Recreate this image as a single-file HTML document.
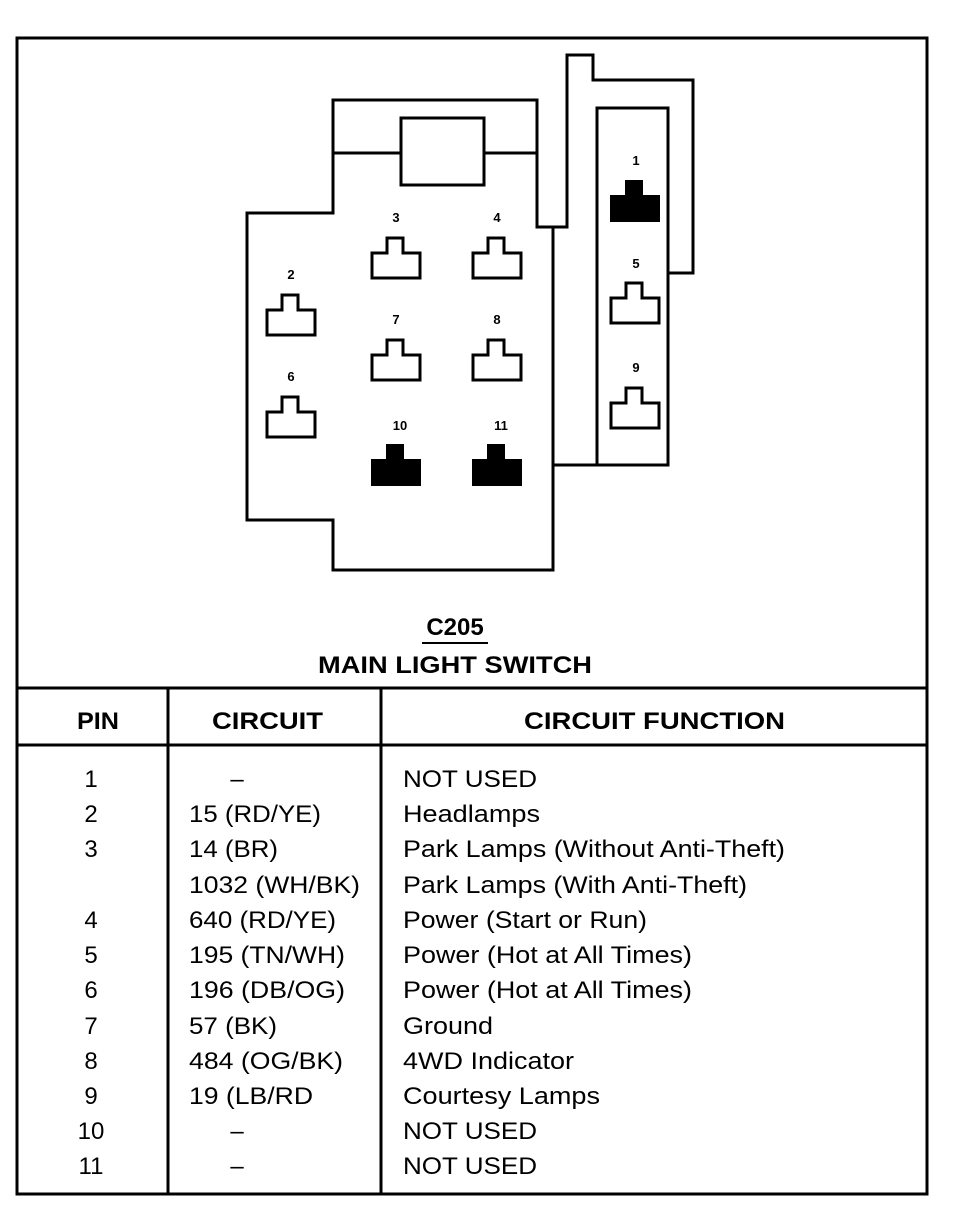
<!DOCTYPE html>
<html><head><meta charset="utf-8"><style>
html,body{margin:0;padding:0;background:#fff;}
svg{display:block;}
text{font-family:"Liberation Sans",Arial,sans-serif;fill:#000;}
.h{font-weight:bold;font-size:24px;}
.t{font-size:24px;}
.n{font-size:13px;font-weight:bold;}
</style></head><body>
<svg width="954" height="1216" viewBox="0 0 954 1216" xmlns="http://www.w3.org/2000/svg">
<g fill="none" stroke="#000" stroke-width="3">
<rect x="17" y="38" width="910" height="1156"/>
<line x1="17" y1="688" x2="927" y2="688"/>
<line x1="17" y1="745" x2="927" y2="745"/>
<line x1="168" y1="688" x2="168" y2="1194"/>
<line x1="381" y1="688" x2="381" y2="1194"/>
<polygon points="247,213 333,213 333,100 537,100 537,227 553,227 553,570 333,570 333,520 247,520"/>
<line x1="333" y1="153" x2="401" y2="153"/>
<line x1="484" y1="153" x2="537" y2="153"/>
<rect x="401" y="118" width="83" height="67"/>
<polyline points="537,227 567,227 567,55 593,55 593,80 693,80 693,273 668,273"/>
<rect x="597" y="108" width="71" height="357"/>
<line x1="553" y1="465" x2="597" y2="465"/>
</g>
<defs>
<path id="pin" d="M0,15 H15 V0 H31 V15 H48 V40 H0 Z"/>
</defs>
<g fill="#fff" stroke="#000" stroke-width="3">
<use href="#pin" x="267" y="295"/>
<use href="#pin" x="267" y="397"/>
<use href="#pin" x="372" y="238"/>
<use href="#pin" x="473" y="238"/>
<use href="#pin" x="372" y="340"/>
<use href="#pin" x="473" y="340"/>
<use href="#pin" x="611" y="283"/>
<use href="#pin" x="611" y="388"/>
</g>
<g fill="#000" stroke="#000" stroke-width="2">
<use href="#pin" x="372" y="445"/>
<use href="#pin" x="473" y="445"/>
<use href="#pin" x="611" y="181"/>
</g>
<g class="n" text-anchor="middle">
<text x="291" y="279">2</text>
<text x="291" y="381">6</text>
<text x="396" y="222">3</text>
<text x="497" y="222">4</text>
<text x="396" y="324">7</text>
<text x="497" y="324">8</text>
<text x="400" y="430">10</text>
<text x="501" y="430">11</text>
<text x="636" y="165">1</text>
<text x="636" y="268">5</text>
<text x="636" y="372">9</text>
</g>
<text class="h" x="455" y="635" text-anchor="middle">C205</text>
<line x1="422" y1="643" x2="488" y2="643" stroke="#000" stroke-width="2"/>
<text class="h" x="318" y="673" textLength="274" lengthAdjust="spacingAndGlyphs">MAIN LIGHT SWITCH</text>
<text class="h" x="77" y="729" textLength="42" lengthAdjust="spacingAndGlyphs">PIN</text>
<text class="h" x="212" y="729" textLength="111" lengthAdjust="spacingAndGlyphs">CIRCUIT</text>
<text class="h" x="524" y="729" textLength="261" lengthAdjust="spacingAndGlyphs">CIRCUIT FUNCTION</text>
<g class="t">
<g text-anchor="middle">
<text x="91" y="787">1</text>
<text x="91" y="822">2</text>
<text x="91" y="857">3</text>
<text x="91" y="928">4</text>
<text x="91" y="963">5</text>
<text x="91" y="998">6</text>
<text x="91" y="1034">7</text>
<text x="91" y="1069">8</text>
<text x="91" y="1104">9</text>
<text x="91" y="1139">10</text>
<text x="91" y="1174">11</text>
<text x="237" y="787">–</text>
<text x="237" y="1139">–</text>
<text x="237" y="1174">–</text>
</g>
<g lengthAdjust="spacingAndGlyphs">
<text x="189" y="822" textLength="132" lengthAdjust="spacingAndGlyphs">15 (RD/YE)</text>
<text x="189" y="857" textLength="89" lengthAdjust="spacingAndGlyphs">14 (BR)</text>
<text x="189" y="893" textLength="171" lengthAdjust="spacingAndGlyphs">1032 (WH/BK)</text>
<text x="189" y="928" textLength="147" lengthAdjust="spacingAndGlyphs">640 (RD/YE)</text>
<text x="189" y="963" textLength="156" lengthAdjust="spacingAndGlyphs">195 (TN/WH)</text>
<text x="189" y="998" textLength="156" lengthAdjust="spacingAndGlyphs">196 (DB/OG)</text>
<text x="189" y="1034" textLength="88" lengthAdjust="spacingAndGlyphs">57 (BK)</text>
<text x="189" y="1069" textLength="154" lengthAdjust="spacingAndGlyphs">484 (OG/BK)</text>
<text x="189" y="1104" textLength="124" lengthAdjust="spacingAndGlyphs">19 (LB/RD</text>
<text x="403" y="787" textLength="134" lengthAdjust="spacingAndGlyphs">NOT USED</text>
<text x="403" y="822" textLength="137" lengthAdjust="spacingAndGlyphs">Headlamps</text>
<text x="403" y="857" textLength="382" lengthAdjust="spacingAndGlyphs">Park Lamps (Without Anti-Theft)</text>
<text x="403" y="893" textLength="344" lengthAdjust="spacingAndGlyphs">Park Lamps (With Anti-Theft)</text>
<text x="403" y="928" textLength="244" lengthAdjust="spacingAndGlyphs">Power (Start or Run)</text>
<text x="403" y="963" textLength="289" lengthAdjust="spacingAndGlyphs">Power (Hot at All Times)</text>
<text x="403" y="998" textLength="289" lengthAdjust="spacingAndGlyphs">Power (Hot at All Times)</text>
<text x="403" y="1034" textLength="90" lengthAdjust="spacingAndGlyphs">Ground</text>
<text x="403" y="1069" textLength="171" lengthAdjust="spacingAndGlyphs">4WD Indicator</text>
<text x="403" y="1104" textLength="197" lengthAdjust="spacingAndGlyphs">Courtesy Lamps</text>
<text x="403" y="1139" textLength="134" lengthAdjust="spacingAndGlyphs">NOT USED</text>
<text x="403" y="1174" textLength="134" lengthAdjust="spacingAndGlyphs">NOT USED</text>
</g>
</g>
</svg>
</body></html>
